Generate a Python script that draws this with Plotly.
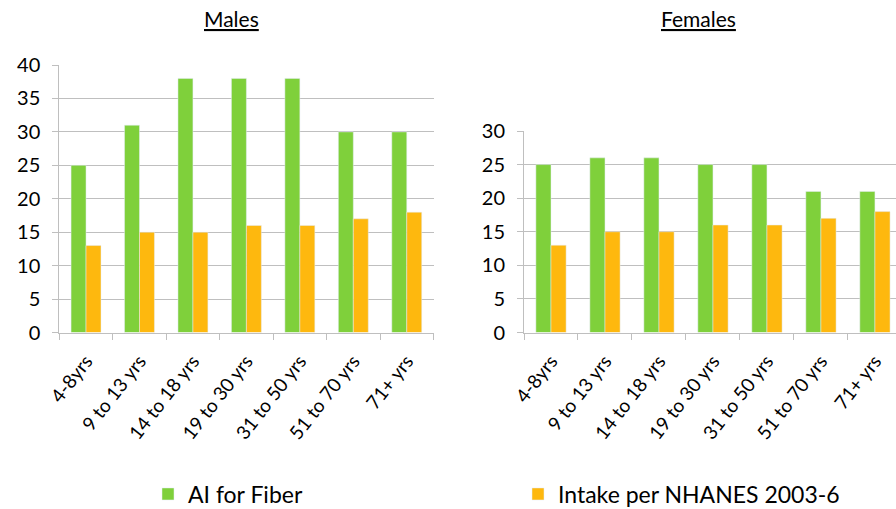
import plotly.graph_objects as go

categories = ["4-8yrs", "9 to 13 yrs", "14 to 18 yrs", "19 to 30 yrs",
              "31 to 50 yrs", "51 to 70 yrs", "71+ yrs"]
males_ai = [25, 31, 38, 38, 38, 30, 30]
males_intake = [13, 15, 15, 16, 16, 17, 18]
females_ai = [25, 26, 26, 25, 25, 21, 21]
females_intake = [13, 15, 15, 16, 16, 17, 18]
males_yticks = [0, 5, 10, 15, 20, 25, 30, 35, 40]
females_yticks = [0, 5, 10, 15, 20, 25, 30]

GREEN = "#7FD03B"
ORANGE = "#FEB80E"
FONT = "Lato"
W, H = 896, 509

fig = go.Figure()
fig.add_trace(go.Bar(x=categories, y=males_ai, name="AI for Fiber", marker_color=GREEN,
                     xaxis="x", yaxis="y", legend="legend"))
fig.add_trace(go.Bar(x=categories, y=males_intake, name="Intake per NHANES 2003-6",
                     marker_color=ORANGE, xaxis="x", yaxis="y", legend="legend2"))
fig.add_trace(go.Bar(x=categories, y=females_ai, name="AI for Fiber", marker_color=GREEN,
                     xaxis="x2", yaxis="y2", showlegend=False))
fig.add_trace(go.Bar(x=categories, y=females_intake, name="Intake per NHANES 2003-6",
                     marker_color=ORANGE, xaxis="x2", yaxis="y2", showlegend=False))

def py(px):
    return 1 - px / H

def pxx(px):
    return min(1.0, px / W)

grid = "#BFBFBF"
xcommon = dict(type="category", showgrid=False, showline=True, linecolor=grid, linewidth=1,
               ticks="outside", tickson="boundaries", ticklen=6, tickcolor=grid,
               tickangle=-52, tickfont=dict(family=FONT, size=19, color="#000"),
               ticklabelstandoff=9, automargin=False)
ycommon = dict(showgrid=True, gridcolor=grid, gridwidth=1, showline=True, linecolor=grid,
               ticks="outside", ticklen=6, tickcolor=grid, zeroline=False,
               tickfont=dict(family=FONT, size=20, color="#000"), ticklabelstandoff=8,
               automargin=False)

fig.update_layout(
    width=W, height=H,
    margin=dict(l=0, r=0, t=0, b=0, autoexpand=False),
    paper_bgcolor="white", plot_bgcolor="white",
    barmode="group", bargap=0.44, bargroupgap=0,
    font=dict(family=FONT, color="#000"),
    xaxis=dict(domain=[pxx(59.3), pxx(433.5)], anchor="y", range=[-0.5, 6.5], **xcommon),
    yaxis=dict(domain=[py(332.5), py(65)], anchor="x", range=[0, 40],
               tickvals=males_yticks, **ycommon),
    xaxis2=dict(domain=[pxx(524), 1.0], anchor="y2", range=[-0.5, 6.39], **xcommon),
    yaxis2=dict(domain=[py(332.5), py(131)], anchor="x2", range=[0, 30],
                tickvals=females_yticks, **ycommon),
    legend=dict(x=pxx(148), y=py(494), xanchor="left", yanchor="middle",
                font=dict(family=FONT, size=23, color="#000"), bgcolor="rgba(0,0,0,0)"),
    legend2=dict(x=pxx(518), y=py(494), xanchor="left", yanchor="middle",
                 font=dict(family=FONT, size=23, color="#000"), bgcolor="rgba(0,0,0,0)"),
    annotations=[
        dict(text="<u>Males</u>", x=pxx(231), y=py(19), xref="paper", yref="paper",
             showarrow=False, xanchor="center", yanchor="middle",
             font=dict(family=FONT, size=21, color="#000")),
        dict(text="<u>Females</u>", x=pxx(698), y=py(19), xref="paper", yref="paper",
             showarrow=False, xanchor="center", yanchor="middle",
             font=dict(family=FONT, size=21, color="#000")),
    ],
)

fig.write_html("out.html", config={"displayModeBar": False},
               post_script="document.body.style.margin='0';")
